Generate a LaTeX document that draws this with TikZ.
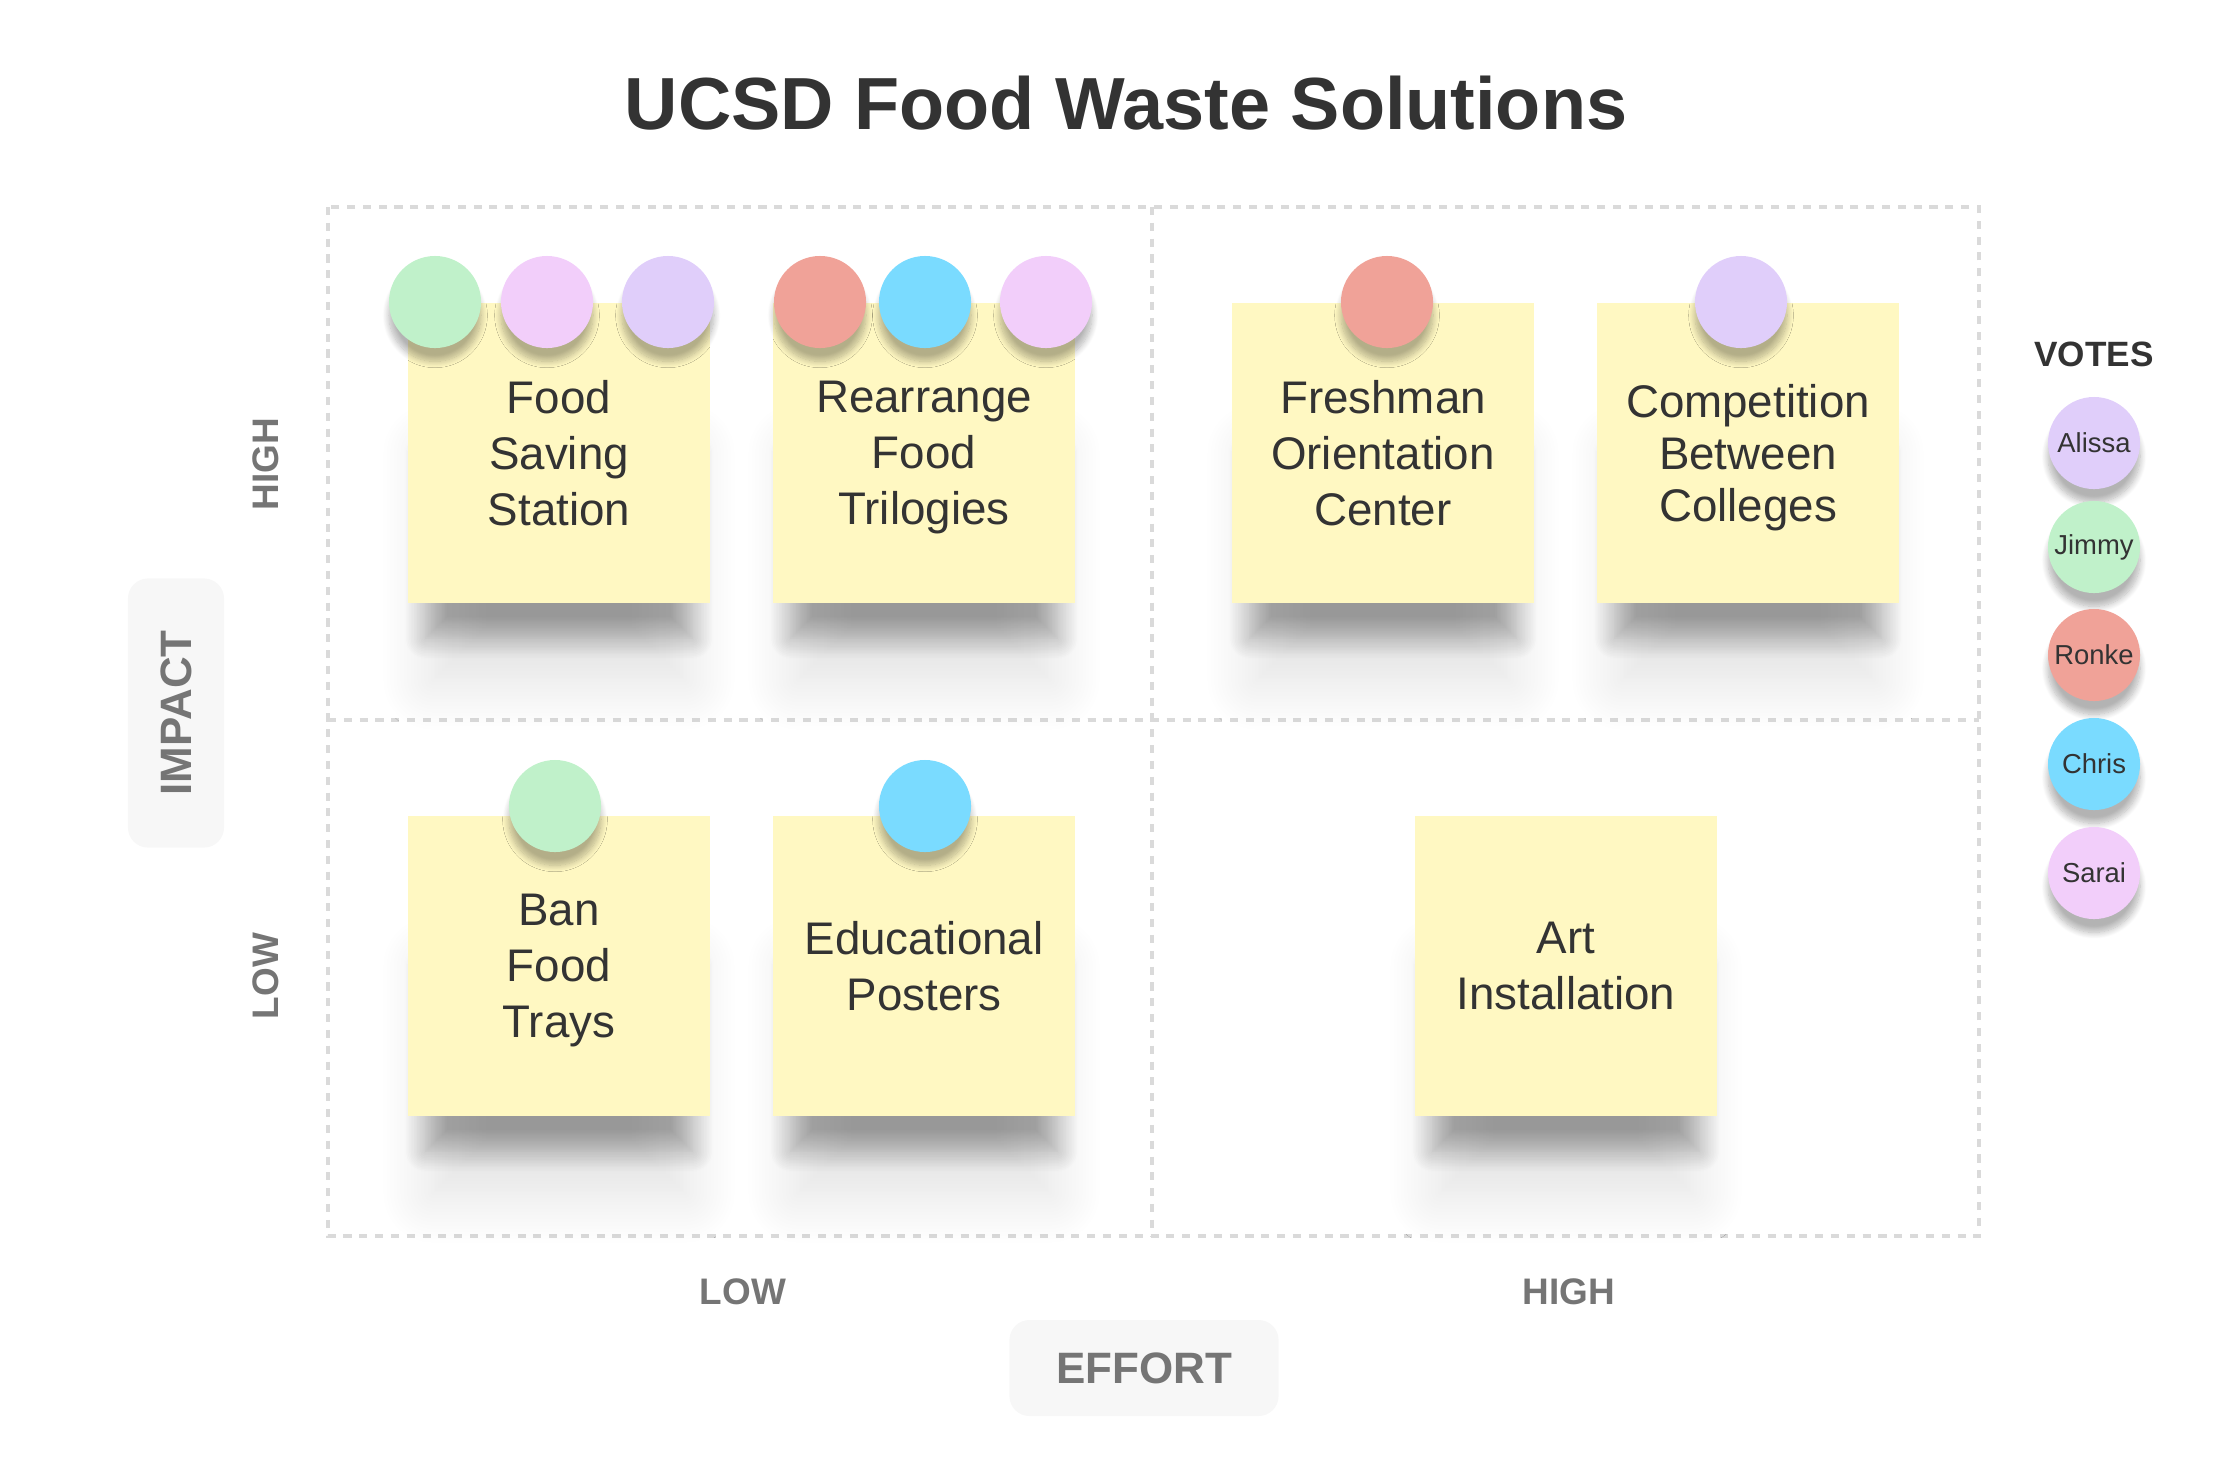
\documentclass[tikz,border=0pt]{standalone}
\usepackage{fontspec}
\setmainfont{Liberation Sans}
\usetikzlibrary{shadows.blur}
\definecolor{ink}{HTML}{333333}
\definecolor{axisgray}{HTML}{757575}
\definecolor{gridgray}{HTML}{DADADA}
\definecolor{tagfill}{HTML}{F7F7F7}
\definecolor{notey}{HTML}{FFF8C2}
\definecolor{alissa}{HTML}{E0CEFA}
\definecolor{jimmy}{HTML}{C0F1CA}
\definecolor{ronke}{HTML}{F0A298}
\definecolor{chris}{HTML}{7ADBFF}
\definecolor{sarai}{HTML}{F2CEFA}

\begin{document}
\begin{tikzpicture}[x=0.01cm, y=-0.01cm,
  note/.style={fill=notey, minimum width=3.02cm, minimum height=3cm, align=center, text=ink,
    font=\fontsize{13}{15.9}\selectfont, text depth=-1pt},
  core shade/.style={inner sep=0pt, minimum width=3.02cm-10pt, minimum height=1.5cm+10pt,
    blur shadow={shadow xshift=0pt, shadow yshift=0pt, shadow blur radius=6pt,
    shadow opacity=32, shadow blur steps=14}},
  haze shade/.style={inner sep=0pt, minimum width=3.02cm-14pt, minimum height=1.5cm+22pt,
    blur shadow={shadow xshift=0pt, shadow yshift=0pt, shadow blur radius=15pt,
    shadow opacity=12, shadow blur steps=16}},
  vote/.style={circle, minimum size=.92cm, inner sep=0pt, text=ink, font=\fontsize{7.8}{9}\selectfont,
    blur shadow={shadow xshift=0pt, shadow yshift=-3.8pt, shadow blur radius=1.8pt, shadow opacity=30, shadow blur steps=10}},
  tag/.style={fill=tagfill, rounded corners=.2cm, minimum width=2.69cm, minimum height=.96cm,
    text=axisgray, font=\fontsize{12.5}{15}\selectfont\bfseries},
  axislevel/.style={text=axisgray, font=\fontsize{10.5}{12}\selectfont\bfseries},
  quadline/.style={gridgray, line width=1.1pt, dash pattern=on 2.3pt off 2.2pt}]
  \useasboundingbox (0,0) rectangle (2240,1472);

  \node[text=ink, font=\fontsize{21}{25}\selectfont\bfseries] (title) at (1126,103) {UCSD Food Waste Solutions};

  \draw[quadline] (328,207) rectangle (1979,1236);
  \draw[quadline] (1152,207) -- (1152,1236) (328,720) -- (1979,720);

  \node[tag, rotate=90] (impact) at (176,713) {IMPACT};
  \node[tag] (effort) at (1144,1368) {EFFORT};
  \node[axislevel, rotate=90] (hi-impact) at (266,464) {HIGH};
  \node[axislevel, rotate=90] (lo-impact) at (266,976) {LOW};
  \node[axislevel] (lo-effort) at (743,1292) {LOW};
  \node[axislevel] (hi-effort) at (1569,1292) {HIGH};

  \coordinate (fss-at) at (559,453);
  \coordinate (rft-at) at (924,453);
  \coordinate (foc-at) at (1383,453);
  \coordinate (cbc-at) at (1748,453);
  \coordinate (bft-at) at (559,966);
  \coordinate (edp-at) at (924,966);
  \coordinate (art-at) at (1566,966);

  \foreach \n in {fss,rft,foc,cbc,bft,edp,art} {
    \node[haze shade] (\n-haze) at ([yshift=-0.75cm-11pt]\n-at) {};
    \node[core shade] (\n-core) at ([yshift=-0.75cm-5pt]\n-at) {};
  }

  \node[note] (fss) at (fss-at) {Food\\Saving\\Station};
  \node[note] (rft) at (rft-at) {Rearrange\\Food\\Trilogies};
  \node[note] (foc) at (foc-at) {Freshman\\Orientation\\Center};
  \node[note, font=\fontsize{13}{14.8}\selectfont] (cbc) at (cbc-at) {Competition\\Between\\Colleges};
  \node[note] (bft) at (bft-at) {Ban\\Food\\Trays};
  \node[note] (edp) at (edp-at) {Educational\\Posters};
  \node[note] (art) at (art-at) {Art\\Installation};

  \node[vote, fill=jimmy] (fss-j) at (435,302) {};
  \node[vote, fill=sarai] (fss-s) at (547,302) {};
  \node[vote, fill=alissa] (fss-a) at (668,302) {};
  \node[vote, fill=ronke] (rft-r) at (820,302) {};
  \node[vote, fill=chris] (rft-c) at (925,302) {};
  \node[vote, fill=sarai] (rft-s) at (1046,302) {};
  \node[vote, fill=ronke] (foc-r) at (1387,302) {};
  \node[vote, fill=alissa] (cbc-a) at (1741,302) {};
  \node[vote, fill=jimmy] (bft-j) at (555,806) {};
  \node[vote, fill=chris] (edp-c) at (925,806) {};

  \node[text=ink, font=\fontsize{10}{12}\selectfont\bfseries] (votes) at (2094,354) {VOTES};
  \foreach \who/\c/\y in {Alissa/alissa/443, Jimmy/jimmy/547, Ronke/ronke/655, Chris/chris/764, Sarai/sarai/873}
    \node[vote, fill=\c] (\c) at (2094,\y) {\who};
\end{tikzpicture}
\end{document}
